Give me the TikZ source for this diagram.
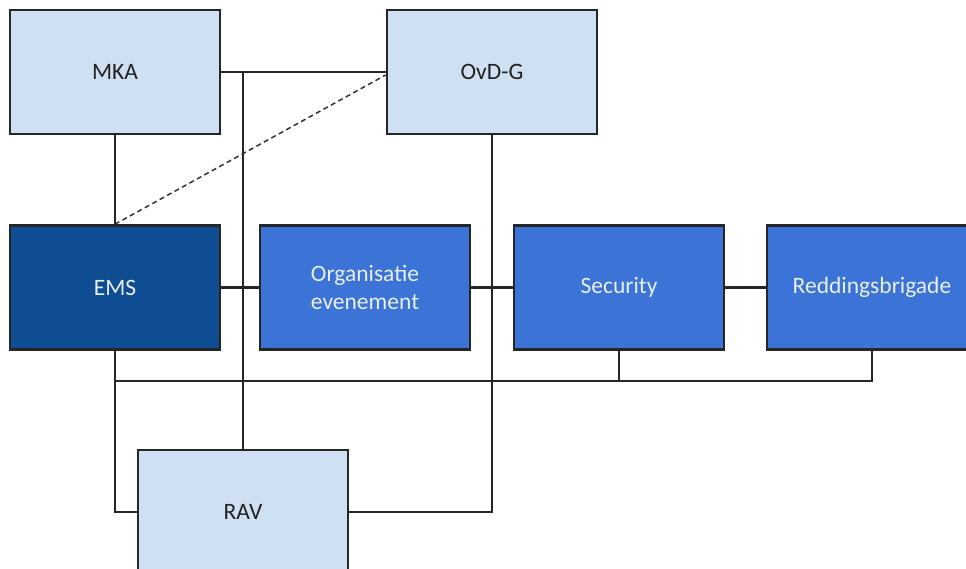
\documentclass[tikz,border=0pt]{standalone}
\usepackage{fontspec}
\setmainfont{Carlito}
\definecolor{lightbox}{HTML}{CFE0F2}
\definecolor{midbox}{HTML}{3B74D6}
\definecolor{darkbox}{HTML}{0E4D92}
\definecolor{lighttext}{HTML}{E8EFF8}
\definecolor{darktext}{HTML}{222222}
\tikzset{
  box/.style={draw=black!85, line width=2.6pt, minimum width=210pt, minimum height=124pt,
    inner sep=0pt, align=center, font=\fontsize{23.5}{28.5}\selectfont},
  lightb/.style={box, fill=lightbox, text=darktext},
  midb/.style={box, fill=midbox, text=lighttext},
  darkb/.style={box, fill=darkbox, text=lighttext},
  conn/.style={draw=black!85, line width=2.3pt},
  dconn/.style={draw=black!80, line width=1.5pt, dash pattern=on 5pt off 3.5pt},
}
\begin{document}
\begin{tikzpicture}[x=1pt,y=-1pt]
\useasboundingbox (0,0) rectangle (966,569);
\clip (0,0) rectangle (966,569);
\fill[white] (0,0) rectangle (966,569);
\coordinate (bus) at (0,381);
\node[lightb] (MKA) at (115,72) {MKA};
\node[lightb] (OvD) at (492,72) {OvD-G};
\node[darkb] (EMS) at (115,287.5) {EMS};
\node[midb] (Org) at (365,287.5) {Organisatie\\evenement};
\node[midb] (Sec) at (619,287.5) {Security};
\node[midb] (Red) at (872,287.5) {Reddingsbrigade};
\node[lightb] (RAV) at (243,512) {RAV};
\draw[conn] (MKA.east) -- (OvD.west);
\draw[conn] (MKA.east -| RAV.north) -- (RAV.north);
\draw[conn] (MKA.south) -- (EMS.north);
\draw[dconn] (EMS.north) -- ([yshift=-3pt]OvD.west);
\draw[conn] (EMS.east) -- (Org.west);
\draw[conn] (Org.east) -- (Sec.west);
\draw[conn] (Sec.east) -- (Red.west);
\draw[conn] (OvD.south) -- (OvD.south |- RAV.east) -- (RAV.east);
\draw[conn] (EMS.south) -- (EMS.south |- RAV.west) -- (RAV.west);
\draw[conn] (EMS.south |- bus) -- (Red.south |- bus) -- (Red.south);
\draw[conn] (Sec.south) -- (Sec.south |- bus);
\end{tikzpicture}
\end{document}
